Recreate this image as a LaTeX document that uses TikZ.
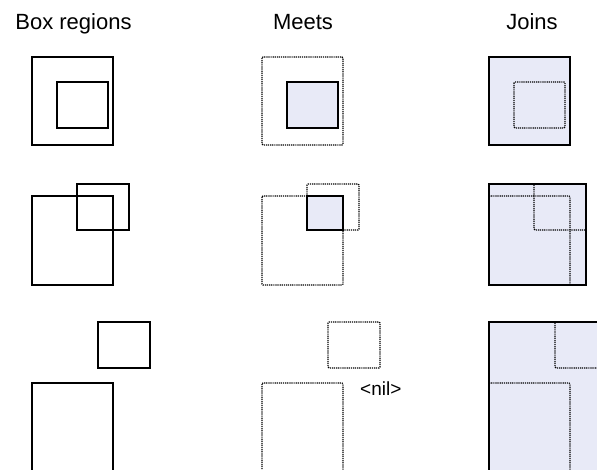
\documentclass[tikz,border=0pt]{standalone}
\usepackage{fontspec}
\setmainfont{Liberation Sans}
\definecolor{joinfill}{RGB}{232,234,247}

\tikzstyle{region} = [draw, line width = 2pt]
\tikzstyle{input} = [draw, line width = 1.1pt, dash pattern = on 1.2pt off 0.9pt, rounded corners = 1pt]
\tikzstyle{result} = [region, fill = joinfill]
\tikzstyle{title} = [font = \fontsize{22}{26}\selectfont, anchor = base, inner sep = 0pt]

\begin{document}
\begin{tikzpicture}[x=1pt, y=-1pt]
		\useasboundingbox (0, 0) rectangle (597, 470);
		\clip (0, 0) rectangle (597, 470);

		\node [title] at (73.5, 30) (boxes) {Box regions};
		\node [title] at (303, 30) (meets) {Meets};
		\node [title] at (532, 30) (joins) {Joins};

		% nested
		\draw [region] (32, 57) rectangle (113, 145);
		\draw [region] (57, 82) rectangle (108, 128);
		\draw [input] (262, 57) rectangle (343, 145);
		\draw [result] (287, 82) rectangle (338, 128);
		\draw [result] (489, 57) rectangle (570, 145);
		\draw [input] (514, 82) rectangle (565, 128);

		% overlapping
		\draw [region] (32, 196) rectangle (113, 285);
		\draw [region] (77, 184) rectangle (129, 230);
		\draw [input] (262, 196) rectangle (343, 285);
		\draw [input] (307, 184) rectangle (359, 230);
		\draw [result] (307, 196) rectangle (343, 230);
		\draw [result] (489, 184) rectangle (586, 285);
		\draw [input] (489, 196) rectangle (570, 285);
		\draw [input] (534, 184) rectangle (586, 230);

		% disjoint
		\draw [region] (98, 322) rectangle (150, 368);
		\draw [region] (32, 383) rectangle (113, 472);
		\draw [input] (328, 322) rectangle (380, 368);
		\draw [input] (262, 383) rectangle (343, 472);
		\node [font = \fontsize{19}{22}\selectfont, anchor = base west, inner sep = 0pt] at (360, 395) (nil) {<nil>};
		\draw [result] (489, 322) rectangle (607, 472);
		\draw [input] (555, 322) rectangle (607, 368);
		\draw [input] (489, 383) rectangle (570, 472);
	\end{tikzpicture}
\end{document}
